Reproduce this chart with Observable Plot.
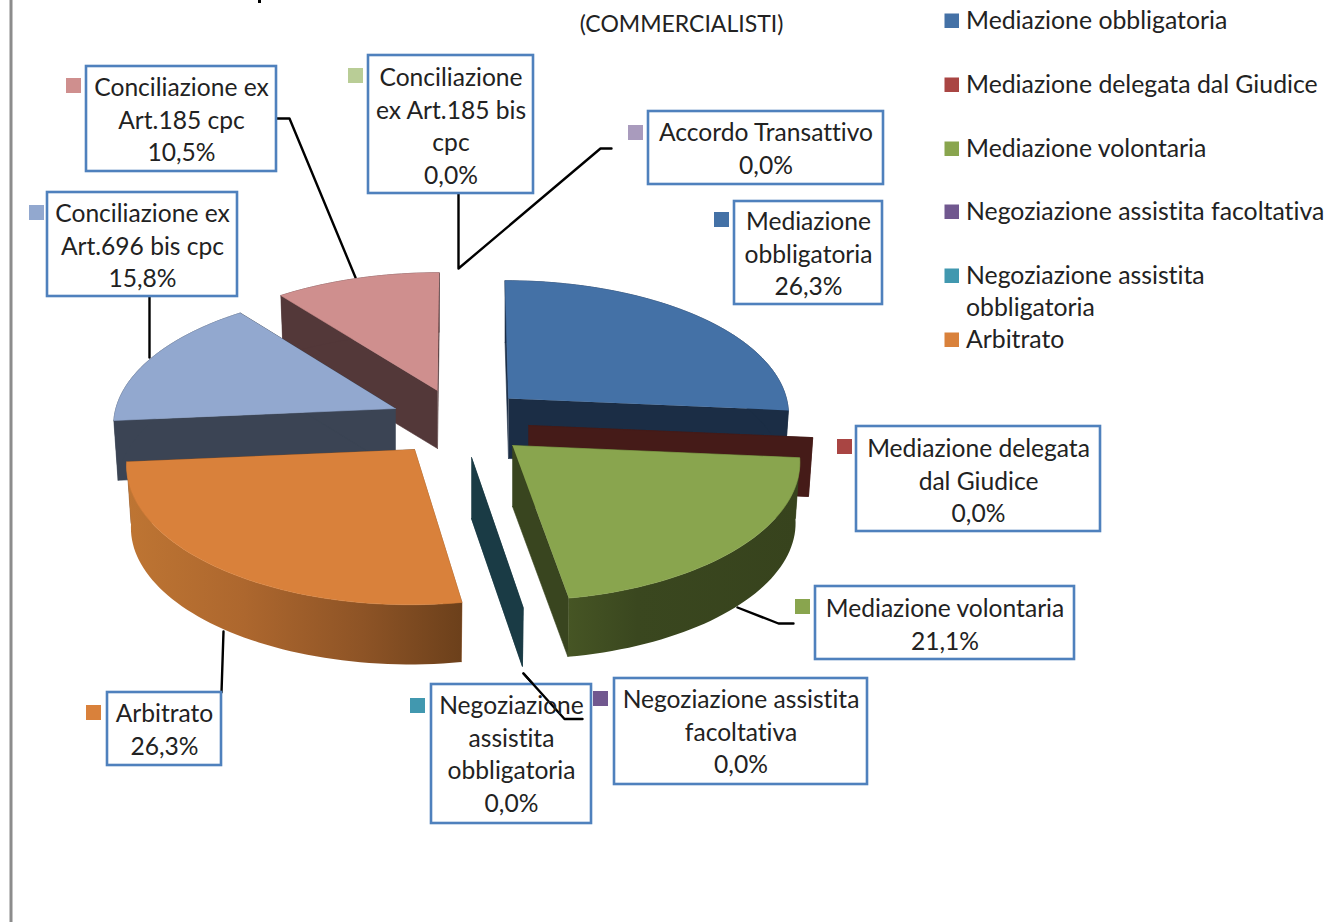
<!DOCTYPE html>
<html>
<head>
<meta charset="utf-8">
<title>Commercialisti</title>
<script src="https://cdn.jsdelivr.net/npm/d3@7"></script>
<script src="https://cdn.jsdelivr.net/npm/@observablehq/plot@0.6"></script>
<style>
html,body{margin:0;padding:0;background:#fff;overflow:hidden}
svg{display:block}
</style>
</head>
<body>
<div id="chart"></div>
<script>
// ---- data ----
const categories = ["Mediazione obbligatoria","Mediazione delegata dal Giudice","Mediazione volontaria",
  "Negoziazione assistita facoltativa","Negoziazione assistita obbligatoria","Arbitrato",
  "Conciliazione ex Art.696 bis cpc","Conciliazione ex Art.185 cpc","Conciliazione ex Art.185 bis cpc","Accordo Transattivo"];
const percentages = [26.3, 0, 21.1, 0, 0, 26.3, 15.8, 10.5, 0, 0];
const legendCategories = ["Mediazione obbligatoria","Mediazione delegata dal Giudice","Mediazione volontaria",
  "Negoziazione assistita facoltativa","Negoziazione assistita obbligatoria","Arbitrato"];
const subtitle = "(COMMERCIALISTI)";

// ---- styles ----
const topColors = ["#4471A6","#A94543","#89A54E","#71588F","#4198AF","#D9813B","#92A8CF","#CF8F8E","#B9CD96","#A99BBD"];
const sideColors = ["#1B2D45","#451B18","url(#greenSide)","#2D2339","#1A3B45","url(#orangeSide)","#3B4454","#533839","#4A5230","#40384A"];
const cutColors = ["#1B2D45","#451B18","#39451F","#2D2339","#1A3B45","#8A5124","#3B4454","#533839","#4A5230","#40384A"];

// ---- layout of the exploded wedges: apex pixel, size factor, thickness (null: wedge not visible) ----
const wedgeLayout = [
  {ax:508,ay:398,k:0.99,d:60},{ax:528,ay:425,k:1.005,d:59},{ax:512,ay:445,k:1.016,d:61},null,
  {ax:471,ay:457,k:1.0,d:61},{ax:414,ay:449,k:1.018,d:62},{ax:395,ay:408,k:0.996,d:60},{ax:437,ay:390,k:0.99,d:58},null,null];
const drawOrder = [7,6,0,1,2,4,5];
const rimX = 281, rimY = 133.8, rimDrop = 1, perspX = 0.1, perspY = 0.116, vanishX = 460, vanishGain = 0.7, floorShrink = 0.985;

// ---- label boxes ----
const boxLines = [
  ["Mediazione","obbligatoria"],["Mediazione delegata","dal Giudice"],["Mediazione volontaria"],
  ["Negoziazione assistita","facoltativa"],["Negoziazione","assistita","obbligatoria"],["Arbitrato"],
  ["Conciliazione ex","Art.696 bis cpc"],["Conciliazione ex","Art.185 cpc"],["Conciliazione","ex Art.185 bis","cpc"],["Accordo Transattivo"]];
const boxLayout = [
  {x1:734,x2:882,y1:201,y2:304,top:221.7,mx:714,my:212},
  {x1:856,x2:1100,y1:426,y2:531,top:448.7,mx:837,my:439},
  {x1:815,x2:1074,y1:586,y2:659,top:608.7,mx:795,my:599},
  {x1:614,x2:867,y1:678,y2:784,top:699.7,mx:593,my:691},
  {x1:431,x2:591,y1:684,y2:823,top:705.7,mx:410,my:698},
  {x1:107,x2:221,y1:692,y2:765,top:713.7,mx:86,my:705},
  {x1:47,x2:237,y1:192,y2:296,top:213.7,mx:29,my:205},
  {x1:86,x2:276,y1:66,y2:171,top:87.7,mx:66,my:78},
  {x1:368,x2:533,y1:55,y2:193,top:77.7,mx:348,my:68},
  {x1:648,x2:883,y1:111,y2:184,top:132.7,mx:628,my:125}];
const lineStep = 32.6, markerSize = 15;

// ---- leader lines ----
const leaders = [
  [[276,118],[289,118],[355,277]],
  [[149,296],[149,357]],
  [[458,193],[458,268],[600,148],[611,148]],
  [[737,607],[778,623],[793,623]],
  [[523,673],[564,718.5],[582,718.5]],
  [[223,631],[221,692]]];

// ---- legend ----
const legendRows = [20,84,148,211,275,339];
const legendX = 965.5, legendMarkX = 944.5, legendTextShift = 0.7;

// ---- geometry derived from the values ----
const total = d3.sum(percentages);
let acc = 0;
const wedges = percentages.map((v,i) => {
  const a0 = acc/total*2*Math.PI; acc += v; const a1 = acc/total*2*Math.PI;
  return {i,a0,a1,l:wedgeLayout[i]};
});
function rim(l,a){
  const s=Math.sin(a),c=Math.cos(a),wx=1+perspX*c,wy=1+perspY*c;
  return [rimX*l.k*s/wx+(l.ax-vanishX)*(1/wy-1)*vanishGain,(-rimY*c+rimDrop)/wy*l.k];
}
const topPt=(l,a)=>{const v=rim(l,a);return [l.ax+v[0],l.ay+v[1]]};
const lowPt=(l,a)=>{const v=rim(l,a);return [l.ax+v[0]*floorShrink,l.ay+v[1]*floorShrink+l.d]};
const angles=(a0,a1)=>{const n=Math.max(1,Math.ceil((a1-a0)/0.03));return d3.range(n+1).map(j=>a0+(a1-a0)*j/n)};
const poly=(pts,fill)=>Plot.line(pts,{x:d=>d[0],y:d=>d[1],fill,stroke:fill.startsWith("url")?"none":fill,strokeWidth:0.6,curve:"linear"});

const wedgeMarks = drawOrder.flatMap(i=>{
  const w=wedges[i],l=w.l,as=angles(w.a0,w.a1),marks=[];
  const apexLow=[l.ax,l.ay+l.d],apex=[l.ax,l.ay];
  marks.push(poly([apex,topPt(l,w.a0),lowPt(l,w.a0),apexLow],cutColors[i]));
  marks.push(poly([apex,topPt(l,w.a1),lowPt(l,w.a1),apexLow],cutColors[i]));
  if(w.a1>w.a0){
    marks.push(poly([...as.map(a=>topPt(l,a)),...as.slice().reverse().map(a=>lowPt(l,a))],sideColors[i]));
    marks.push(poly([apex,...as.map(a=>topPt(l,a))],topColors[i]));
  }
  return marks;
});

// ---- text rows ----
const fmt = v => v.toFixed(1).replace(".",",")+"%";
const boxes = boxLayout.map((b,i)=>({...b,i}));
const boxText = boxLayout.flatMap((b,i)=>[...boxLines[i],fmt(percentages[i])].map((t,j)=>({t,x:(b.x1+b.x2)/2,y:b.top+j*lineStep})));
const legendText = [
  {t:legendCategories[0],y:legendRows[0]},{t:legendCategories[1],y:legendRows[1]},{t:legendCategories[2],y:legendRows[2]},
  {t:legendCategories[3],y:legendRows[3]},{t:"Negoziazione assistita",y:legendRows[4]},{t:"obbligatoria",y:307},{t:legendCategories[5],y:legendRows[5]}];
const legendColors = [0,1,2,3,4,5].map(i=>topColors[i]);

const font = "Lato, 'Open Sans', sans-serif";
const defs = () => {
  const d = d3.create("svg:defs");
  const grad=(id,stops)=>{
    const g=d.append("linearGradient").attr("id",id).attr("x1",0).attr("x2",1).attr("y1",0).attr("y2",0);
    stops.forEach(([o,c])=>g.append("stop").attr("offset",o).attr("stop-color",c));
  };
  grad("orangeSide",[[0,"#BE7533"],[0.35,"#AD672E"],[0.7,"#8E5426"],[1,"#6C401B"]]);
  grad("greenSide",[[0,"#465524"],[0.3,"#3A471F"],[1,"#37431D"]]);
  return d.node();
};

const chart = Plot.plot({
  width:1339,height:922,margin:0,
  style:{background:"#fff",fontVariantLigatures:"none"},
  x:{domain:[0,1339],range:[0,1339],axis:null},
  y:{domain:[0,922],range:[0,922],axis:null},
  marks:[
    defs,
    Plot.ruleX([10.5],{stroke:"#8c8c8c",strokeWidth:3}),
    Plot.ruleX([259],{y1:0,y2:3,stroke:"#000",strokeWidth:3}),
    Plot.text([subtitle],{x:()=>681,y:()=>24.5,fontSize:23,fontFamily:font,fill:"#222"}),
    ...leaders.slice(0,5).map(p=>Plot.line(p,{x:d=>d[0],y:d=>d[1],stroke:"#000",strokeWidth:2.4,curve:"linear"})),
    Plot.line(leaders[5],{x:d=>d[0],y:d=>d[1],stroke:"#000",strokeWidth:2.4}),
    ...wedgeMarks,
    Plot.rect(boxes,{x1:"x1",x2:"x2",y1:"y1",y2:"y2",fill:"#fff",stroke:"#4F81BD",strokeWidth:2.6}),
    Plot.rect(boxes,{x1:"mx",x2:d=>d.mx+markerSize,y1:"my",y2:d=>d.my+markerSize,fill:d=>topColors[d.i]}),
    Plot.line(leaders[4],{x:d=>d[0],y:d=>d[1],stroke:"#000",strokeWidth:2.4}),
    Plot.text(boxText,{x:"x",y:"y",text:"t",fontSize:24.6,fontFamily:font,fill:"#222"}),
    Plot.rect(legendColors,{x1:()=>legendMarkX,x2:()=>legendMarkX+14.5,y1:(d,i)=>legendRows[i]-6.5,y2:(d,i)=>legendRows[i]+8,fill:d=>d}),
    Plot.text(legendText,{x:()=>legendX,y:d=>d.y+legendTextShift,text:"t",textAnchor:"start",fontSize:24.8,fontFamily:font,fill:"#222"})
  ]
});
document.getElementById("chart").append(chart);
</script>
</body>
</html>
